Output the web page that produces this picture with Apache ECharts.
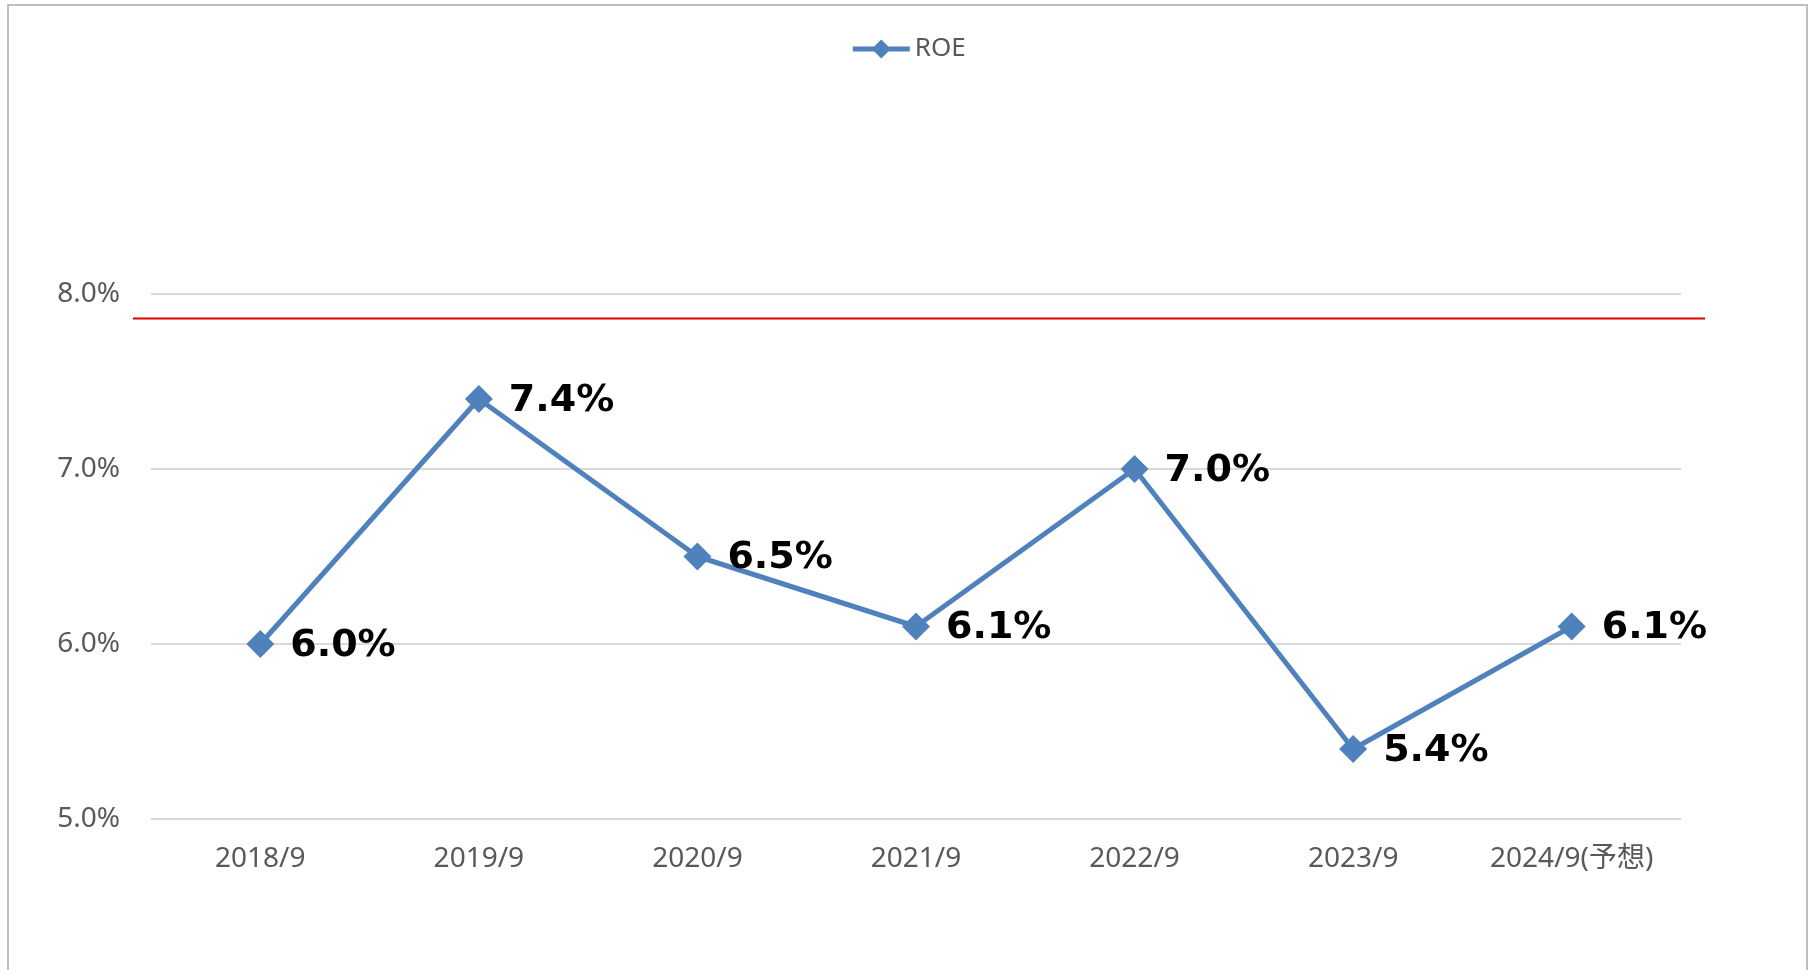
<!DOCTYPE html>
<html>
<head>
<meta charset="utf-8">
<script src="https://cdn.jsdelivr.net/npm/echarts@6/dist/echarts.min.js"></script>
<style>
html, body { margin: 0; padding: 0; background: #fff; }
#main { width: 1816px; height: 970px; }
</style>
</head>
<body>
<div id="main"></div>
<script>
var categories = ["2018/9", "2019/9", "2020/9", "2021/9", "2022/9", "2023/9", "2024/9(予想)"];
var roe = [6.0, 7.4, 6.5, 6.1, 7.0, 5.4, 6.1];
var yTicks = [5, 6, 7, 8];
// red reference line drawn in the original sheet, just under 8%
var refLine = 7.86;

var font = "'Noto Sans', 'Noto Sans CJK JP', sans-serif";
var chart = echarts.init(document.getElementById("main"));

chart.setOption({
  backgroundColor: "#ffffff",
  animation: false,
  legend: {
    top: 31,
    left: "center",
    itemWidth: 57,
    itemHeight: 24,
    itemGap: 4,
    lineStyle: { width: 5 },
    textStyle: { fontFamily: font, fontSize: 26, color: "#595959" },
    data: ["ROE"]
  },
  grid: { left: 151, right: 135, top: 294, bottom: 151 },
  xAxis: {
    type: "category",
    data: categories,
    boundaryGap: true,
    axisLine: { show: false },
    axisTick: { show: false },
    axisLabel: { fontFamily: font, fontSize: 28, color: "#595959", margin: 26 }
  },
  yAxis: {
    type: "value",
    min: yTicks[0],
    max: yTicks[yTicks.length - 1],
    interval: 1,
    axisLine: { show: false },
    axisTick: { show: false },
    splitLine: { lineStyle: { color: "#d9d9d9", width: 2 } },
    axisLabel: {
      fontFamily: font,
      fontSize: 28,
      color: "#595959",
      margin: 31,
      formatter: function (v) { return v.toFixed(1) + "%"; }
    }
  },
  series: [
    {
      name: "ROE",
      type: "line",
      data: roe,
      symbol: "diamond",
      symbolSize: 28,
      lineStyle: { color: "#4f81bd", width: 5 },
      itemStyle: { color: "#4f81bd" },
      label: {
        show: true,
        position: "right",
        distance: 16,
        offset: [0, 2],
        fontFamily: "'DejaVu Sans', sans-serif",
        fontWeight: "bold",
        fontSize: 38,
        color: "#000000",
        formatter: function (p) { return p.value.toFixed(1) + "%"; }
      }
    }
  ]
});

var yRef = chart.convertToPixel({ yAxisIndex: 0 }, refLine);
chart.setOption({
  graphic: [
    {
      type: "rect",
      shape: { x: 8, y: 5, width: 1799, height: 1000 },
      style: { fill: "none", stroke: "#bfbfbf", lineWidth: 2 },
      silent: true
    },
    {
      type: "line",
      shape: { x1: 133, y1: yRef, x2: 1705, y2: yRef },
      style: { stroke: "#e00000", lineWidth: 2 },
      silent: true
    }
  ]
});
</script>
</body>
</html>
